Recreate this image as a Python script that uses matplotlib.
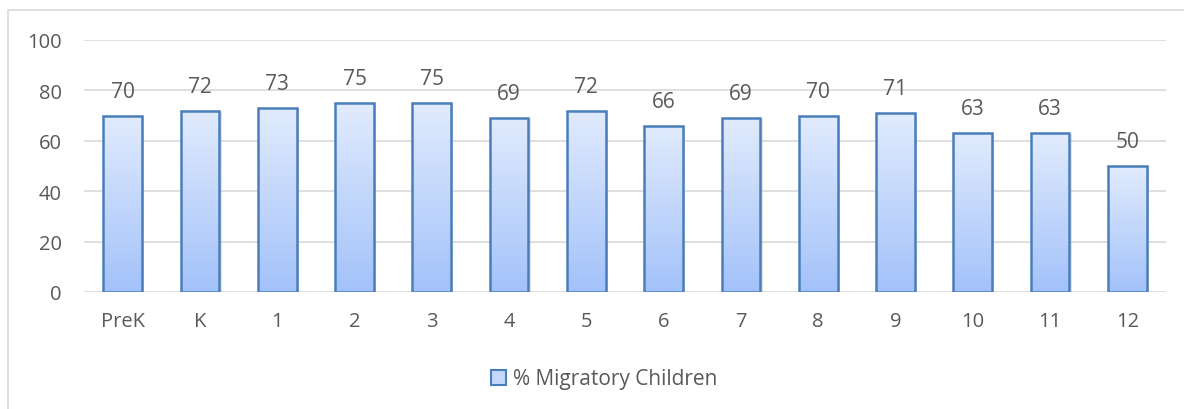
import matplotlib.pyplot as plt
import numpy as np
from matplotlib.patches import Rectangle
from matplotlib.colors import LinearSegmentedColormap

plt.rcParams['font.family'] = ['Open Sans', 'DejaVu Sans']

grades = ["PreK", "K", "1", "2", "3", "4", "5", "6", "7", "8", "9", "10", "11", "12"]
pct_migratory = [70, 72, 73, 75, 75, 69, 72, 66, 69, 70, 71, 63, 63, 50]
series_name = "% Migratory Children"

text_col = "#595959"
edge_col = "#4a7ebb"
grad = LinearSegmentedColormap.from_list("g", ["#a3c2fa", "#e1ebfd"])

fig = plt.figure(figsize=(11.84, 4.10), dpi=100)
# outer chart border (only left and top visible in the reference)
fig.patches.append(Rectangle((8 / 1184, -0.1), 1.2, 1 - 11 / 410 + 0.1,
                             transform=fig.transFigure, fill=False,
                             edgecolor="#d9d9d9", linewidth=1.2))

ax = fig.add_axes([84 / 1184, 1 - 293 / 410, (1166 - 84) / 1184, (293 - 41) / 410])
x = np.arange(len(grades))
bars = ax.bar(x, pct_migratory, width=0.5, facecolor="none", edgecolor=edge_col,
              linewidth=1.8, zorder=3)

gradient = np.linspace(0, 1, 256).reshape(-1, 1)
for b in bars:
    x0, w, h = b.get_x(), b.get_width(), b.get_height()
    # soft shadow
    ax.add_patch(Rectangle((x0 + 0.03, 0), w, h - 0.4, facecolor="#b0b0b0",
                           alpha=0.35, edgecolor="none", zorder=2))
    im = ax.imshow(gradient, cmap=grad, aspect="auto", origin="lower",
                   extent=(x0, x0 + w, 0, h), zorder=2.5)
    im.set_clip_path(b)

for xi, v in zip(x, pct_migratory):
    ax.text(xi, v + 5.5, str(v), ha="center", va="bottom", fontsize=15, color=text_col)

ax.set_xlim(-0.5, len(grades) - 0.5)
ax.set_ylim(0, 100)
ax.set_yticks(range(0, 101, 20))
ax.set_xticks(x)
ax.set_xticklabels(grades)
ax.yaxis.grid(True, color="#d9d9d9", linewidth=1.2, zorder=0)
ax.set_axisbelow(True)
for s in ax.spines.values():
    s.set_visible(False)
ax.tick_params(length=0, labelsize=14.5, labelcolor=text_col)
ax.tick_params(axis="x", pad=14)
ax.tick_params(axis="y", pad=16)

handle = Rectangle((0, 0), 1, 1, facecolor="#c5d8fb", edgecolor=edge_col, linewidth=1.5)
fig.legend([handle], [series_name], loc="center", bbox_to_anchor=(0.51, 1 - 380 / 410),
           frameon=False, fontsize=15, labelcolor=text_col, handlelength=0.75,
           handleheight=0.75, handletextpad=0.3)

fig.savefig("out.png", dpi=100)
